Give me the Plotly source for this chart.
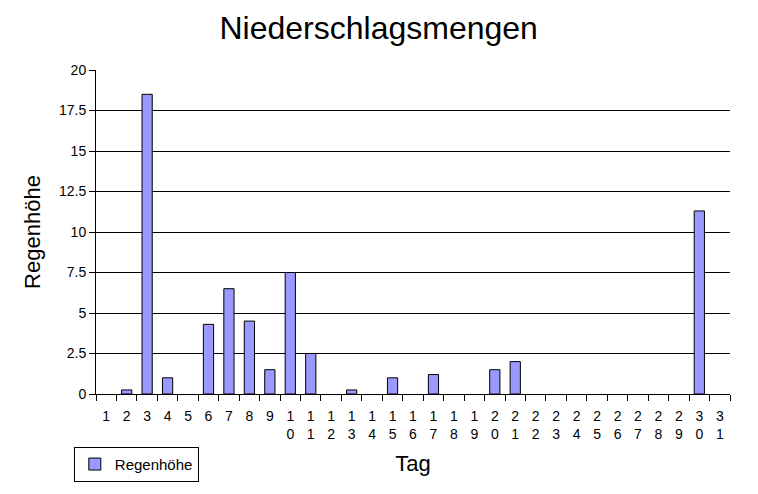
import plotly.graph_objects as go

days = [str(i) for i in range(1, 32)]
tick_labels = ["<br>".join(list(d)) if len(d) > 1 else d for d in days]
regen = [0, 0.25, 18.5, 1.0, 0, 4.3, 6.5, 4.5, 1.5, 7.5,
         2.5, 0, 0.25, 0, 1.0, 0, 1.2, 0, 0, 1.5,
         2.0, 0, 0, 0, 0, 0, 0, 0, 0, 11.3, 0]

font = "Liberation Sans, Arial, sans-serif"

fig = go.Figure()
fig.add_trace(go.Bar(
    x=days, y=[v if v else None for v in regen], name="Regenhöhe",
    marker=dict(color="#9999FF", line=dict(color="black", width=1)),
    showlegend=True,
))

fig.update_layout(
    width=758, height=494,
    paper_bgcolor="white", plot_bgcolor="white",
    font=dict(family=font, color="black", size=14),
    title=dict(text="Niederschlagsmengen", x=0.489, xanchor="center", y=0.96, yanchor="middle",
               font=dict(size=32, family=font)),
    margin=dict(l=88, r=36, t=62, b=108, autoexpand=False),
    bargap=0.5,
    showlegend=True,
    legend=dict(x=-0.035, y=-0.163, xanchor="left", yanchor="top",
                bordercolor="black", borderwidth=1, font=dict(size=15, family=font),
                bgcolor="white", itemwidth=30),
    xaxis=dict(
        tickmode="array", tickvals=days, ticktext=tick_labels,
        tickangle=0, automargin=False,
        ticks="outside", tickson="boundaries", ticklen=6, tickcolor="black",
        ticklabelstandoff=9,
        showline=True, linecolor="black", linewidth=1,
        showgrid=False,
        title=dict(text="Tag", font=dict(size=22, family=font), standoff=14),
        tickfont=dict(size=14, family=font),
    ),
    yaxis=dict(
        range=[0, 20], tickmode="array", automargin=False,
        tickvals=[0, 2.5, 5, 7.5, 10, 12.5, 15, 17.5, 20],
        ticktext=["0", "2.5", "5", "7.5", "10", "12.5", "15", "17.5", "20"],
        ticks="outside", ticklen=6, tickcolor="black",
        showline=True, linecolor="black", linewidth=1,
        showgrid=True, gridcolor="black", gridwidth=1,
        zeroline=False,
        title=dict(text="Regenhöhe", font=dict(size=22, family=font), standoff=12),
        tickfont=dict(size=14, family=font),
    ),
)

fig.write_html("out.html")
